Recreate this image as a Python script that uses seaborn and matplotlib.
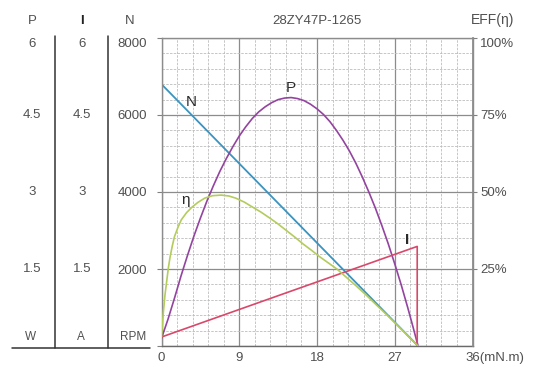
import matplotlib
matplotlib.use('Agg')
import matplotlib.pyplot as plt
import seaborn as sns
import numpy as np
import matplotlib.transforms as mtransforms
from matplotlib.lines import Line2D

# ---------------- data ----------------
title = "28ZY47P-1265"
torque_n = [0, 29.7]
speed_rpm = [6800, 0]
torque_i = [0, 29.6, 29.6]
current_a = [0.175, 1.94, 0.0]
torque_p = [0, 0.75, 1.5, 2.25, 3, 3.75, 4.5, 5.25, 6, 6.75, 7.5, 8.25, 9,
            9.75, 10.5, 11.25, 12, 12.75, 13.5, 14.25, 15, 15.75, 16.5,
            17.25, 18, 18.75, 19.5, 20.25, 21, 21.75, 22.5, 23.25, 24,
            24.75, 25.5, 26.25, 27, 27.75, 28.5, 29.1, 29.7]
power_w = [0.15, 0.52, 0.93, 1.36, 1.76, 2.14, 2.49, 2.82, 3.12, 3.40, 3.65,
           3.88, 4.09, 4.27, 4.43, 4.56, 4.66, 4.74, 4.80, 4.83, 4.84, 4.82,
           4.78, 4.71, 4.62, 4.51, 4.37, 4.20, 4.01, 3.80, 3.56, 3.29, 3.00,
           2.69, 2.35, 1.99, 1.60, 1.19, 0.75, 0.38, 0.0]
torque_e = [0, 0.2, 0.4, 0.6, 0.8, 1.0, 1.25, 1.5, 1.9, 2.3, 2.9, 3.5, 4.2,
            5.0, 5.9, 6.9, 7.8, 8.6, 9.6, 10.6, 11.5, 12.5, 13.5, 14.5, 15.5,
            16.4, 17.4, 18.3, 19.3, 20.3, 21.4, 22.5, 23.7, 25, 26.2, 27.5,
            28.6, 29.7]
eff_pct = [3, 10.5, 16.5, 21, 25.5, 29, 32.5, 35.5, 38.5, 41, 43.3, 45, 46.6,
           48, 48.8, 49, 48.7, 48, 46.7, 45, 43.5, 41.6, 39.6, 37.4, 35.2,
           33.1, 31, 29, 27, 25, 22.3, 19.6, 16.5, 13, 9.8, 6.2, 3.1, 0]
x_ticks = [0, 9, 18, 27, 36]
x_labels = ['0', '9', '18', '27', '']
x_last_label = '36(mN.m)'
n_ticks = [0, 2000, 4000, 6000, 8000]
n_labels = ['', '2000', '4000', '6000', '8000']
pi_labels = ['', '1.5', '3', '4.5', '6']
eff_ticks = [25, 50, 75, 100]
eff_labels = ['25%', '50%', '75%', '100%']

# ---------------- style ----------------
sns.set_theme(style='white')
plt.rcParams['font.family'] = ['Liberation Sans', 'DejaVu Sans']
FS = 9.5
TXT = '#505050'
c_n, c_p, c_e, c_i = '#3b93bf', '#93449f', '#b3cc5c', '#d9486a'

W, H = 534, 372
fig = plt.figure(figsize=(W / 100, H / 100), dpi=100)
L, R, T, B = 161.5, 472.5, 38, 346
ax = fig.add_axes([L / W, 1 - B / H, (R - L) / W, (B - T) / H])

def fx(px):
    return px / W

def fy(py):
    return 1 - py / H

ax.set_xlim(0, 36)
ax.set_ylim(0, 8000)
ax.set_xticks(x_ticks)
ax.set_xticklabels(x_labels, fontsize=FS, color=TXT)
ax.set_yticks(n_ticks)
ax.set_yticklabels(['', n_labels[1], n_labels[2], n_labels[3], ''], fontsize=FS, color=TXT)
ax.set_xticks(np.arange(0, 36.01, 1.8), minor=True)
ax.set_yticks(np.arange(0, 8001, 400), minor=True)
ax.grid(which='minor', color='#bdbdbd', lw=0.6, ls=(0, (3, 1.5)))
ax.grid(which='major', color='#8c8c8c', lw=0.9)
ax.tick_params(which='minor', length=0)
ax.tick_params(axis='x', which='major', length=3, pad=1.5, color='#808080', width=0.8)
ax.tick_params(axis='y', which='major', length=3.6, pad=7, color='#808080', width=0.8)
for s in ax.spines.values():
    s.set_color('#8c8c8c')
    s.set_linewidth(1.0)
ax.spines['bottom'].set_color('#6a6a6a')

# twin axes: P/I scale (hidden) and efficiency scale (right)
ax_pi = ax.twinx()
ax_pi.set_ylim(0, 6)
ax_pi.axis('off')
ax_e = ax.twinx()
ax_e.set_ylim(0, 100)
ax_e.set_yticks(eff_ticks)
ax_e.set_yticklabels(eff_labels[:-1] + [''], fontsize=FS, color=TXT)
ax_e.tick_params(axis='y', length=3, pad=2.5, color='#808080', width=0.8)
for s in ax_e.spines.values():
    s.set_visible(False)
ax_e.spines['right'].set_visible(True)
ax_e.spines['right'].set_color('#8c8c8c')
ax_e.grid(False)

# curves
sns.lineplot(x=torque_n, y=speed_rpm, ax=ax, color=c_n, lw=1.3, sort=False, estimator=None)
sns.lineplot(x=torque_p, y=power_w, ax=ax_pi, color=c_p, lw=1.2, sort=False, estimator=None)
sns.lineplot(x=torque_i, y=current_a, ax=ax_pi, color=c_i, lw=1.2, sort=False, estimator=None)
sns.lineplot(x=torque_e, y=eff_pct, ax=ax_e, color=c_e, lw=1.2, sort=False, estimator=None)

# curve labels
lab_kw = dict(fontsize=11, color='#2a2a2a', ha='center', va='center')
ax.text(3.4, 6350, 'N', **lab_kw)
ax.text(15.0, 6700, 'P', **lab_kw)
ax.text(2.8, 3780, 'η', **lab_kw)
ax.text(28.4, 2760, 'I', fontweight='bold', **lab_kw)

# top tick labels shifted down
top_off = mtransforms.offset_copy(ax.get_yaxis_transform(), fig=fig, x=-(3.6 + 7), y=-4.5, units='points')
ax.text(0, 8000, n_labels[-1], transform=top_off, ha='right', va='center', fontsize=FS, color=TXT)
e_off = mtransforms.offset_copy(ax_e.get_yaxis_transform(), fig=fig, x=3 + 2.5, y=-4.5, units='points')
ax_e.text(1, 100, eff_labels[-1], transform=e_off, ha='left', va='center', fontsize=FS, color=TXT)

# x last label
x_off = mtransforms.offset_copy(ax.get_xaxis_transform(), fig=fig, x=-5, y=-4.5, units='points')
ax.text(36, 0, x_last_label, transform=x_off, ha='left', va='top', fontsize=FS, color=TXT)

# left P and I columns
bl = mtransforms.blended_transform_factory(fig.transFigure, ax.transData)
for col_x in (32, 82):
    for v, lab in zip(n_ticks, pi_labels):
        if not lab:
            continue
        if v == 8000:
            tr = mtransforms.offset_copy(bl, fig=fig, x=0, y=-4.5, units='points')
        else:
            tr = bl
        fig.text(fx(col_x), v, lab, transform=tr, ha='center', va='center', fontsize=FS, color=TXT)

# headers
fig.text(fx(32), fy(21), 'P', ha='center', va='center', fontsize=FS, color=TXT)
fig.text(fx(82), fy(21), 'I', ha='center', va='center', fontsize=FS, color='#222', fontweight='bold')
fig.text(fx(130), fy(21), 'N', ha='center', va='center', fontsize=FS, color=TXT)
fig.text(fx(317), fy(21), title, ha='center', va='center', fontsize=FS, color=TXT)
fig.text(fx(493), fy(20), 'EFF(η)', ha='center', va='center', fontsize=FS + 0.5, color=TXT)

# units row
fig.text(fx(31), fy(337), 'W', ha='center', va='center', fontsize=FS - 1, color=TXT)
fig.text(fx(81), fy(337), 'A', ha='center', va='center', fontsize=FS - 1, color=TXT)
fig.text(fx(133), fy(337), 'RPM', ha='center', va='center', fontsize=FS - 1, color=TXT)

# divider lines
for xv in (55, 108):
    fig.add_artist(Line2D([fx(xv), fx(xv)], [fy(36), fy(347.5)], color='#333333', lw=1.1))
fig.add_artist(Line2D([fx(12), fx(150)], [fy(347.5), fy(347.5)], color='#333333', lw=1.1))

fig.savefig('out.png', dpi=100, facecolor='white')
